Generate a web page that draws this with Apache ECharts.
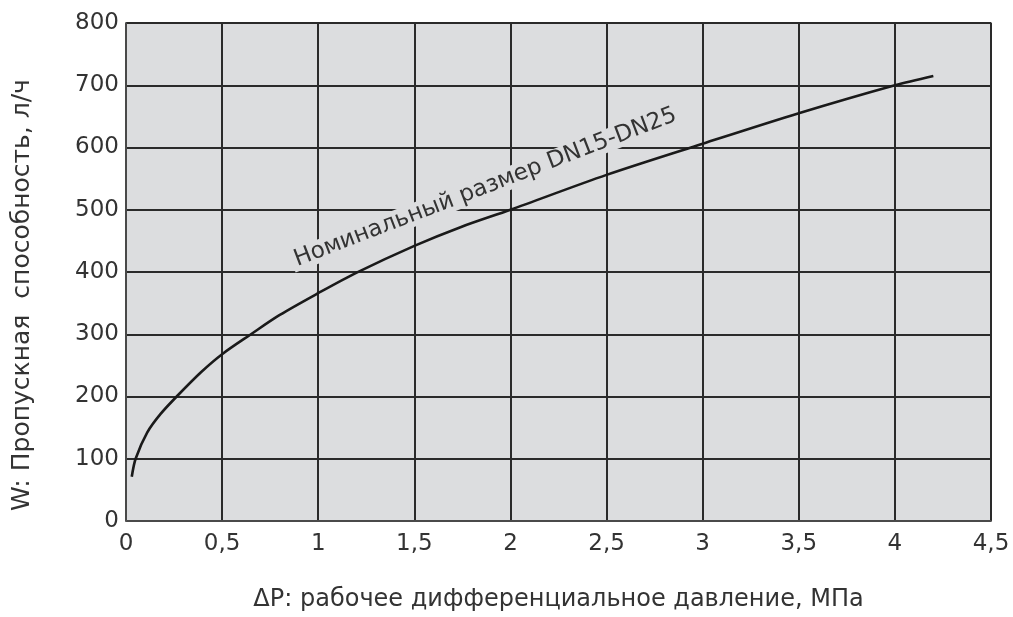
<!DOCTYPE html>
<html>
<head>
<meta charset="utf-8">
<script src="https://cdn.jsdelivr.net/npm/echarts@6/dist/echarts.min.js"></script>
<style>
html,body{margin:0;padding:0;background:#fff;}
#chart{width:1013px;height:617px;}
</style>
</head>
<body>
<div id="chart"></div>
<script>
// Data
const pressure = [0.03, 0.05, 0.11, 0.18, 0.27, 0.39, 0.5, 0.65, 0.8, 1.0, 1.2, 1.5, 1.74, 2.0, 2.5, 3.0, 3.5, 4.0, 4.2];
const flow     = [71, 100, 142, 172, 202, 239, 268, 300, 331, 366, 399, 442, 472, 500, 556, 606, 655, 700, 715];
const curveLabel = 'Номинальный размер DN15-DN25';
const xAxisTitle = 'ΔP: рабочее дифференциальное давление, МПа';
const yAxisTitle = 'W: Пропускная  способность, л/ч';
const labelAnchor = [1.87, 536];

const FONT = 'DejaVu Sans';
const chart = echarts.init(document.getElementById('chart'), null, {renderer: 'canvas'});
const points = pressure.map((p, i) => [p, flow[i]]);

chart.setOption({
  animation: false,
  backgroundColor: '#ffffff',
  grid: {left: 126, right: 22, top: 23, bottom: 91, show: true, backgroundColor: '#dcdddf', borderColor: '#666', borderWidth: 1.5},
  xAxis: {
    type: 'value', min: 0, max: 4.5, interval: 0.5,
    name: xAxisTitle, nameLocation: 'middle', nameGap: 67,
    nameTextStyle: {fontFamily: FONT, fontSize: 24, color: '#333'},
    axisLine: {show: true, lineStyle: {color: '#555', width: 1.5}},
    axisTick: {show: false},
    axisLabel: {margin: 12, fontFamily: FONT, fontSize: 23, color: '#333',
      formatter: v => String(v).replace('.', ',')},
    splitLine: {show: true, lineStyle: {color: '#2a2a2a', width: 2}}
  },
  yAxis: {
    type: 'value', min: 0, max: 800, interval: 100,
    name: yAxisTitle, nameLocation: 'middle', nameGap: 91,
    nameTextStyle: {fontFamily: FONT, fontSize: 25, color: '#333', padding: [0, 46, 0, 0]},
    axisLine: {show: true, lineStyle: {color: '#555', width: 1.5}},
    axisTick: {show: false},
    axisLabel: {margin: 7, fontFamily: FONT, fontSize: 23, color: '#333'},
    splitLine: {show: true, lineStyle: {color: '#2a2a2a', width: 2}}
  },
  series: [{
    type: 'line', data: points, smooth: 0.3, showSymbol: false, z: 5,
    lineStyle: {color: '#1a1a1a', width: 2.6}
  }]
});

const pos = chart.convertToPixel({gridIndex: 0}, labelAnchor);
chart.setOption({
  graphic: [{
    type: 'text', x: pos[0], y: pos[1], rotation: 21 * Math.PI / 180, z: 3,
    style: {
      text: curveLabel, fontFamily: FONT, fontSize: 23, fill: '#333',
      align: 'center', verticalAlign: 'middle',
      backgroundColor: '#dcdddf', padding: [0, 4]
    }
  }]
});
</script>
</body>
</html>
